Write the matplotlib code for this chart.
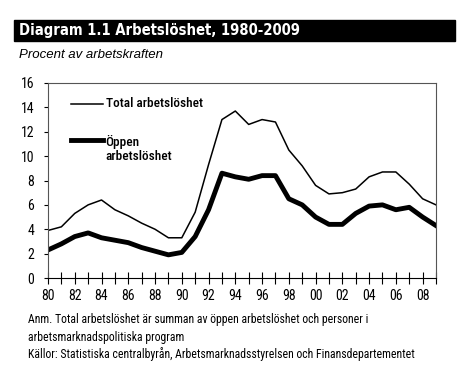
import matplotlib
matplotlib.use('Agg')
import matplotlib.pyplot as plt
import matplotlib.patches as mpatches
from matplotlib.ticker import MultipleLocator

# --- Data ---
years = list(range(1980, 2010))
total = [3.9, 4.2, 5.3, 6.0, 6.4, 5.6, 5.1, 4.5, 4.0, 3.3,
         3.3, 5.4, 9.3, 13.0, 13.7, 12.6, 13.0, 12.8, 10.5, 9.2,
         7.6, 6.9, 7.0, 7.3, 8.3, 8.7, 8.7, 7.7, 6.5, 6.0]
oppen = [2.3, 2.8, 3.4, 3.7, 3.3, 3.1, 2.9, 2.5, 2.2, 1.9,
         2.1, 3.4, 5.6, 8.6, 8.3, 8.1, 8.4, 8.4, 6.5, 6.0,
         5.0, 4.4, 4.4, 5.3, 5.9, 6.0, 5.6, 5.8, 5.0, 4.3]
xlabels = ['80', '82', '84', '86', '88', '90', '92', '94', '96', '98',
           '00', '02', '04', '06', '08']

FONT = ['Roboto Condensed', 'DejaVu Sans']
plt.rcParams['font.family'] = FONT

W, H = 460, 378
fig = plt.figure(figsize=(W / 100, H / 100), dpi=100)

# title bar
fig.patches.append(mpatches.Rectangle((14 / W, 1 - 41 / H), 441 / W, 21 / H,
                                      transform=fig.transFigure, color='black'))
fig.text(19 / W, 1 - 31 / H, 'Diagram 1.1 Arbetslöshet, 1980-2009', color='white',
         fontsize=10.6, fontweight='bold', fontstretch='condensed',
         family=['DejaVu Sans'], va='center')
fig.text(19 / W, 1 - 55 / H, 'Procent av arbetskraften', fontsize=9.5,
         style='italic', family=['Liberation Sans', 'DejaVu Sans'], va='center')

ax = fig.add_axes([48 / W, 1 - 278 / H, 388 / W, 195 / H])
ax.plot(years, total, color='black', lw=1.1)
ax.plot(years, oppen, color='black', lw=3.5)

ax.set_xlim(1980, 2009)
ax.set_ylim(0, 16)
ax.yaxis.set_major_locator(MultipleLocator(2))
ax.set_xticks(years)
ax.set_xticklabels([xlabels[(y - 1980) // 2] if (y - 1980) % 2 == 0 else '' for y in years])
ax.tick_params(axis='x', direction='inout', length=8, width=0.8, pad=4, labelsize=10)
ax.tick_params(axis='y', direction='out', length=3, width=0.8, pad=7, labelsize=10)
for s in ax.spines.values():
    s.set_color('#555555')
    s.set_linewidth(0.8)
ax.spines['bottom'].set_color('black')

# legend drawn by hand
ax.plot([1981.7, 1984.1], [14.3, 14.3], color='black', lw=1.1)
ax.text(1984.3, 14.3, 'Total arbetslöshet', fontsize=9.5, fontweight='medium', va='center')
ax.plot([1981.7, 1984.1], [11.3, 11.3], color='black', lw=3.5)
ax.text(1984.3, 11.2, 'Öppen', fontsize=9.5, fontweight='medium', va='center')
ax.text(1984.3, 9.95, 'arbetslöshet', fontsize=9.5, fontweight='medium', va='center')

# notes
fig.text(28 / W, 1 - 320 / H, 'Anm. Total arbetslöshet är summan av öppen arbetslöshet och personer i',
         fontsize=8.5, va='center')
fig.text(28 / W, 1 - 337 / H, 'arbetsmarknadspolitiska program', fontsize=8.5, va='center')
fig.text(28 / W, 1 - 354 / H, 'Källor: Statistiska centralbyrån, Arbetsmarknadsstyrelsen och Finansdepartementet',
         fontsize=8.5, va='center')

fig.savefig('out.png', dpi=100, facecolor='white')
